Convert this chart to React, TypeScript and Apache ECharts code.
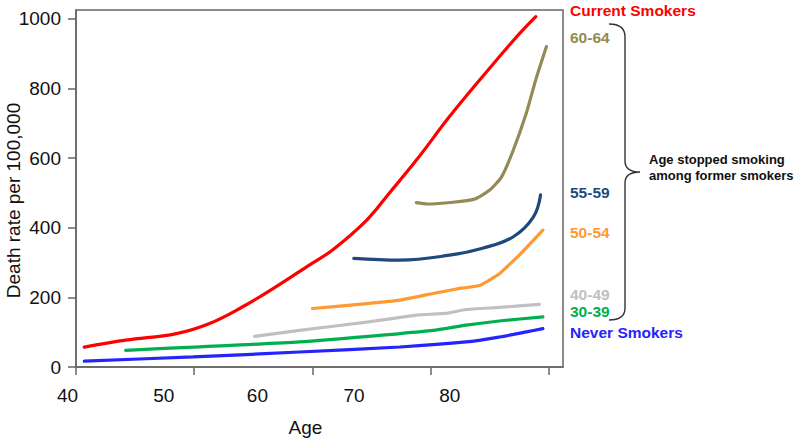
import React, { useEffect, useRef } from "react";
import * as echarts from "echarts";

// ---- data (age, death rate per 100,000) ----
const currentAges = [40.7, 44.2, 48.5, 51.3, 54.1, 56.9, 59.7, 61.7, 64.6, 66.5, 68.8, 71.6, 74.4, 77.3, 78.9];
const currentRates = [57, 77, 96, 125, 173, 230, 292, 336, 422, 499, 594, 719, 834, 949, 1006];

const q6064Ages = [68.8, 69.7, 71.9, 73.7, 75.0, 76.0, 77.0, 78.1, 78.9, 79.8];
const q6064Rates = [472, 468, 473, 482, 508, 546, 623, 729, 825, 920];

const q5559Ages = [63.5, 67.4, 71.6, 74.4, 77.0, 78.7, 79.3];
const q5559Rates = [312, 307, 321, 341, 374, 431, 494];

const q5054Ages = [60.0, 64.6, 67.4, 70.2, 72.2, 74.2, 75.8, 77.5, 79.5];
const q5054Rates = [168, 182, 192, 211, 224, 235, 267, 321, 393];

const q4049Ages = [55.1, 58.9, 64.6, 68.8, 71.3, 73.0, 75.8, 79.2];
const q4049Rates = [88, 105, 129, 149, 154, 165, 171, 180];

const q3039Ages = [44.2, 50.5, 58.9, 67.4, 70.2, 73.0, 75.8, 79.5];
const q3039Rates = [48, 58, 72, 96, 105, 120, 132, 144];

const neverAges = [40.7, 49.9, 58.9, 67.4, 73.0, 75.8, 78.1, 79.5];
const neverRates = [17, 29, 43, 57.5, 72, 86, 101, 110];

const xTicks = [40, 50, 60, 70, 80];
const yTicks = [0, 200, 400, 600, 800, 1000];

const seriesDefs = [
  { name: "Never Smokers", ages: neverAges, rates: neverRates, color: "#2424ff", smooth: 0.3 },
  { name: "30-39", ages: q3039Ages, rates: q3039Rates, color: "#00b050", smooth: 0.2 },
  { name: "40-49", ages: q4049Ages, rates: q4049Rates, color: "#c0c0c0", smooth: 0.1 },
  { name: "50-54", ages: q5054Ages, rates: q5054Rates, color: "#ff9933", smooth: 0.1 },
  { name: "55-59", ages: q5559Ages, rates: q5559Rates, color: "#1f497d", smooth: 0.4 },
  { name: "60-64", ages: q6064Ages, rates: q6064Rates, color: "#948a54", smooth: 0.2 },
  { name: "Current Smokers", ages: currentAges, rates: currentRates, color: "#ff0000", smooth: 0.4 },
];

const FONT = "'Liberation Sans', Arial, Helvetica, sans-serif";

// label offsets to the left of their ticks (as drawn in the reference)
const xLabelShift: Record<number, number> = { 40: 17, 50: 61, 60: 110, 70: 153, 80: 198 };

const rightLabels = [
  { text: "Current Smokers", y: 11, color: "#ff0000" },
  { text: "60-64", y: 38, color: "#948a54" },
  { text: "55-59", y: 193, color: "#1f497d" },
  { text: "50-54", y: 233, color: "#ff9933" },
  { text: "40-49", y: 295, color: "#c0c0c0" },
  { text: "30-39", y: 312, color: "#00b050" },
  { text: "Never Smokers", y: 333, color: "#2424ff" },
];

echarts.graphic.registerShape(
  "brace",
  echarts.graphic.extendPath(
    "M609,24 C620,24 625,28 625,37 L625,161 C625,168 630,172 640,172 C630,172 625,176 625,183 L625,308 C625,316 620,320 609,320",
    {}
  )
);

export default function App() {
  const ref = useRef<HTMLDivElement>(null);
  useEffect(() => {
    if (!ref.current) return;
    const chart = echarts.init(ref.current, undefined, { renderer: "svg" });
    const rich: Record<string, any> = {};
    xTicks.forEach((t) => {
      rich["t" + t] = {
        fontSize: 19,
        fontFamily: FONT,
        color: "#111",
        padding: [0, xLabelShift[t], 0, 0],
      };
    });
    chart.setOption({
      animation: false,
      backgroundColor: "#ffffff",
      grid: {
        left: 76,
        top: 10,
        right: 237,
        bottom: 72,
        show: true,
        borderColor: "#666",
        borderWidth: 1.5,
        backgroundColor: "transparent",
        outerBoundsMode: "none",
        containLabel: false,
      },
      xAxis: {
        type: "value",
        min: 40,
        max: 81.2,
        name: "Age",
        nameLocation: "middle",
        nameGap: 51,
        nameMoveOverlap: false,
        nameTextStyle: { fontSize: 19, fontFamily: FONT, color: "#111", padding: [0, 28, 0, 0] },
        axisLine: { show: true, onZero: false, lineStyle: { color: "#666", width: 1.5 } },
        axisTick: { show: true, length: 8, customValues: xTicks, lineStyle: { color: "#666", width: 1.5 } },
        axisLabel: {
          customValues: xTicks,
          margin: 19,
          formatter: (v: number) => `{t${Math.round(v)}|${Math.round(v)}}`,
          rich,
        },
        splitLine: { show: false },
      },
      yAxis: {
        type: "value",
        min: 0,
        max: 1025,
        name: "Death rate per 100,000",
        nameLocation: "middle",
        nameRotate: 90,
        nameGap: 53,
        nameMoveOverlap: false,
        nameTextStyle: { fontSize: 19, fontFamily: FONT, color: "#111", padding: [0, 24, 0, 0] },
        axisLine: { show: true, onZero: false, lineStyle: { color: "#666", width: 1.5 } },
        axisTick: { show: true, length: 8, customValues: yTicks, lineStyle: { color: "#666", width: 1.5 } },
        axisLabel: {
          customValues: yTicks,
          margin: 15,
          fontSize: 19,
          fontFamily: FONT,
          color: "#111",
          formatter: (v: number) => String(v),
        },
        splitLine: { show: false },
      },
      series: seriesDefs.map((s) => ({
        type: "line",
        name: s.name,
        data: s.ages.map((a, i) => [a, s.rates[i]]),
        showSymbol: false,
        smooth: s.smooth,
        lineStyle: { color: s.color, width: 3.2, cap: "round" },
        itemStyle: { color: s.color },
      })),
      graphic: [
        ...rightLabels.map((l) => ({
          type: "text",
          left: 570,
          top: l.y - 9,
          style: {
            text: l.text,
            fill: l.color,
            font: `bold 15.5px ${FONT}`,
          },
        })),
        {
          type: "brace",
          x: 0,
          y: 0,
          style: { stroke: "#333", lineWidth: 1.4, fill: "none" },
        },
        {
          type: "text",
          left: 649,
          top: 151,
          style: {
            text: "Age stopped smoking\namong former smokers",
            fill: "#111",
            font: `bold 13px ${FONT}`,
            lineHeight: 16,
          },
        },
      ],
    });
    return () => chart.dispose();
  }, []);
  return (
    <div
      ref={ref}
      style={{ position: "absolute", left: 0, top: 0, width: 800, height: 439 }}
    />
  );
}
